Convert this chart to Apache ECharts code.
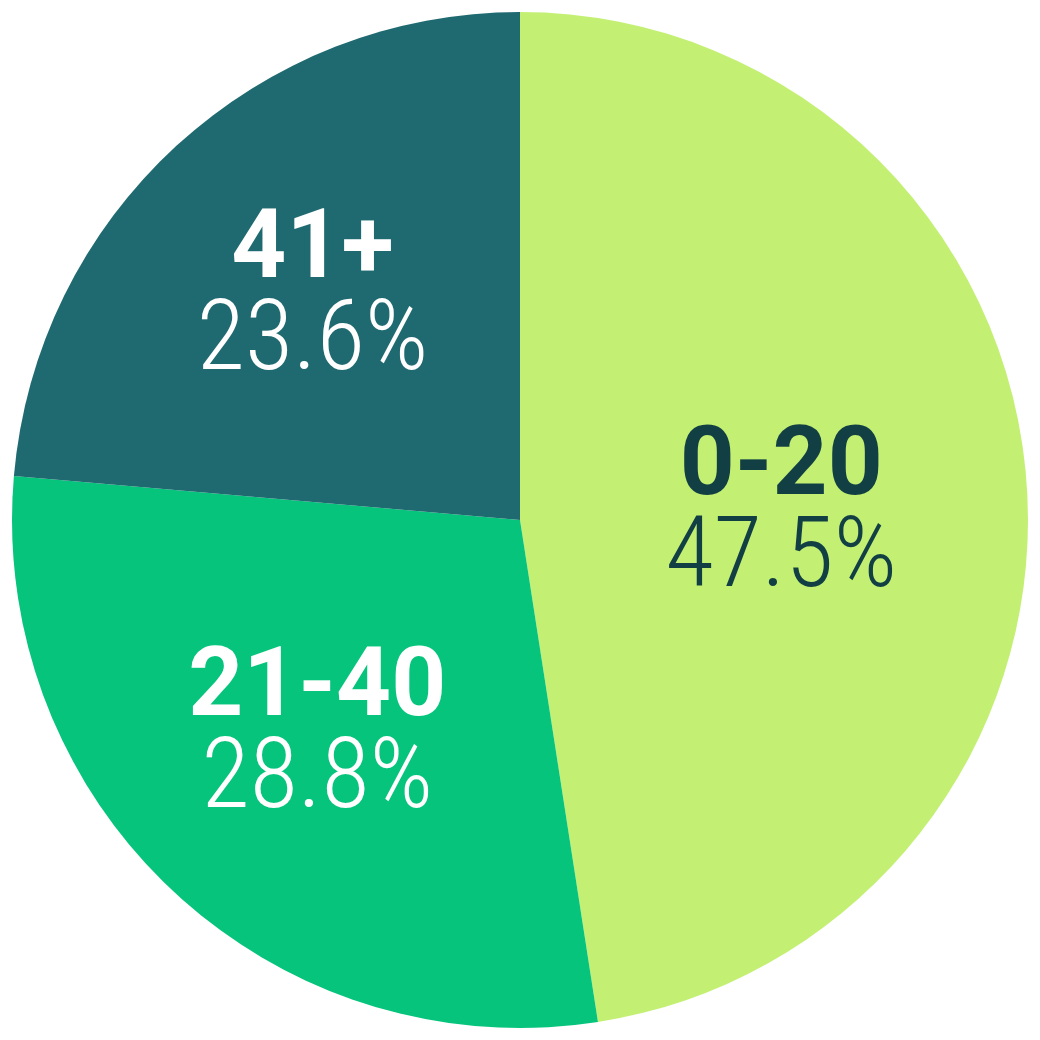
<!DOCTYPE html>
<html>
<head>
<meta charset="utf-8">
<script src="https://cdn.jsdelivr.net/npm/echarts@6/dist/echarts.min.js"></script>
<style>
html,body{margin:0;padding:0;background:#fff;}
#chart{width:1040px;height:1040px;}
</style>
</head>
<body>
<div id="chart"></div>
<script>
const categories = ['0-20', '21-40', '41+'];
const shares = [47.5, 28.8, 23.6];

const sliceColors = ['#C3F073', '#06C47C', '#1F6A70'];
const textColors = ['#123F44', '#FFFFFF', '#FFFFFF'];
const labelDist = [260, 297, 304];
const labelShift = [[2, 16], [0, 0], [-2, 3]];

const chart = echarts.init(document.getElementById('chart'), null, {renderer: 'canvas'});
const total = shares.reduce((a, b) => a + b, 0);
const cx = 520, cy = 520;

function midAngle(i) {
  let start = 0;
  for (let k = 0; k < i; k++) start += shares[k];
  return (start + shares[i] / 2) / total * 2 * Math.PI;
}

chart.setOption({
  animation: false,
  series: [{
    type: 'pie',
    center: [cx, cy],
    radius: 508,
    startAngle: 90,
    clockwise: true,
    avoidLabelOverlap: false,
    itemStyle: {borderWidth: 0},
    labelLine: {show: false},
    data: categories.map((c, i) => ({
      name: c,
      value: shares[i],
      itemStyle: {color: sliceColors[i]},
      label: {
        rich: {
          n: {fontFamily: 'Roboto', fontWeight: 'bold', fontSize: 96, lineHeight: 91, color: textColors[i], align: 'center'},
          p: {fontFamily: "'Roboto Condensed', Roboto", fontWeight: 300, fontSize: 99, lineHeight: 91, color: textColors[i], align: 'center'}
        }
      }
    })),
    label: {
      show: true,
      position: 'inside',
      align: 'center',
      verticalAlign: 'middle',
      formatter: p => '{n|' + p.name + '}\n{p|' + p.value.toFixed(1) + '%}'
    },
    labelLayout: function (p) {
      const i = p.dataIndex;
      const a = midAngle(i);
      const d = labelDist[i];
      return {x: cx + d * Math.sin(a) + labelShift[i][0], y: cy - d * Math.cos(a) + labelShift[i][1], align: 'center', verticalAlign: 'middle'};
    }
  }]
});
</script>
</body>
</html>
